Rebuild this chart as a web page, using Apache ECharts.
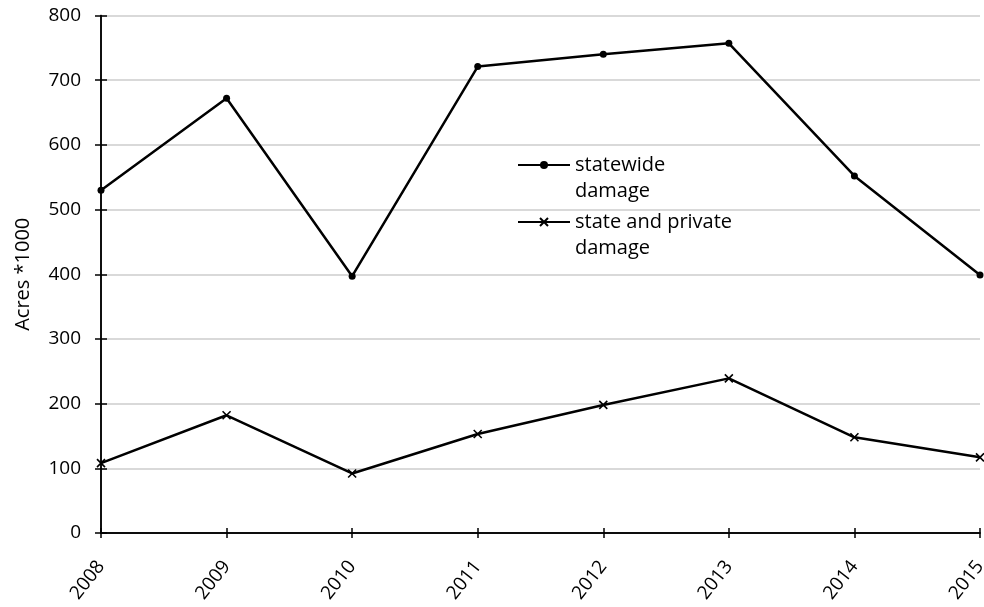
<!DOCTYPE html>
<html>
<head>
<meta charset="utf-8">
<script src="https://cdn.jsdelivr.net/npm/echarts@6/dist/echarts.min.js"></script>
<style>
  html, body { margin: 0; padding: 0; background: #fff; }
  #chart { width: 984px; height: 607px; }
</style>
</head>
<body>
<div id="chart"></div>
<script>
// Years on the horizontal axis
const years = ['2008', '2009', '2010', '2011', '2012', '2013', '2014', '2015'];
// Damaged area, thousands of acres
const statewideDamage = [530, 672, 397, 721, 740, 757, 552, 399];
const stateAndPrivateDamage = [108, 182, 92, 153, 198, 239, 148, 117];
// Vertical axis range
const yMin = 0, yMax = 800, yStep = 100;

const FONT = '"Open Sans", sans-serif';
const INK = '#000';
const CROSS = 'path://M0,0L10,10M10,0L0,10';

const chart = echarts.init(document.getElementById('chart'), null, { renderer: 'canvas' });

// Two overlapping axes per direction give ticks on both sides of the axis line
const xAxisBase = {
  type: 'category',
  data: years,
  boundaryGap: false,
  axisLine: { show: true, lineStyle: { color: INK, width: 1.5 } },
  splitLine: { show: false }
};
const yAxisBase = {
  type: 'value',
  min: yMin, max: yMax, interval: yStep,
  axisLine: { show: true, lineStyle: { color: INK, width: 1.5 } }
};

// Legend text: the leading blank line keeps the icon level with the first text line
const legendText = {
  color: INK, fontSize: 20, fontFamily: FONT, lineHeight: 26
};

chart.setOption({
  animation: false,
  backgroundColor: '#fff',
  textStyle: { fontFamily: FONT },
  grid: {
    left: 101, right: 4, top: 15.5, bottom: 74,
    containLabel: false,
    outerBoundsMode: 'none'
  },
  xAxis: [
    Object.assign({}, xAxisBase, {
      axisTick: { show: true, inside: false, length: 5, lineStyle: { color: INK, width: 1.5 } },
      axisLabel: {
        rotate: 52, margin: 30, color: INK, fontSize: 19, fontFamily: FONT,
        hideOverlap: false
      }
    }),
    Object.assign({}, xAxisBase, {
      position: 'bottom',
      axisTick: { show: true, inside: true, length: 5, lineStyle: { color: INK, width: 1.5 } },
      axisLabel: { show: false }
    })
  ],
  yAxis: [
    Object.assign({}, yAxisBase, {
      name: 'Acres *1000',
      nameLocation: 'middle',
      nameGap: 68,
      nameTextStyle: { color: INK, fontSize: 20, fontFamily: FONT },
      axisTick: { show: true, inside: false, length: 6, lineStyle: { color: INK, width: 1.5 } },
      axisLabel: { color: INK, fontSize: 19, fontFamily: FONT, margin: 20 },
      splitLine: { show: true, lineStyle: { color: '#d9d9d9', width: 2 } }
    }),
    Object.assign({}, yAxisBase, {
      position: 'left',
      axisTick: { show: true, inside: true, length: 6, lineStyle: { color: INK, width: 1.5 } },
      axisLabel: { show: false },
      splitLine: { show: false }
    })
  ],
  legend: [
    {
      data: ['statewide damage'],
      left: 517, top: 126, padding: 0,
      itemWidth: 52, itemHeight: 10, itemGap: 0,
      formatter: () => '\nstatewide\ndamage',
      textStyle: legendText
    },
    {
      data: ['state and private damage'],
      left: 517, top: 183, padding: 0,
      itemWidth: 52, itemHeight: 10, itemGap: 0,
      formatter: () => '\nstate and private\ndamage',
      textStyle: legendText
    }
  ],
  series: [
    {
      name: 'statewide damage',
      type: 'line',
      data: statewideDamage,
      symbol: 'circle',
      symbolSize: 7,
      showAllSymbol: true,
      lineStyle: { color: INK, width: 2.5 },
      itemStyle: { color: INK, borderColor: INK, borderWidth: 0 },
      z: 3
    },
    {
      name: 'state and private damage',
      type: 'line',
      data: stateAndPrivateDamage,
      symbol: CROSS,
      symbolSize: 8,
      showAllSymbol: true,
      lineStyle: { color: INK, width: 2.5 },
      itemStyle: { color: 'none', borderColor: INK, borderWidth: 1.6 },
      z: 3
    }
  ]
});
</script>
</body>
</html>
